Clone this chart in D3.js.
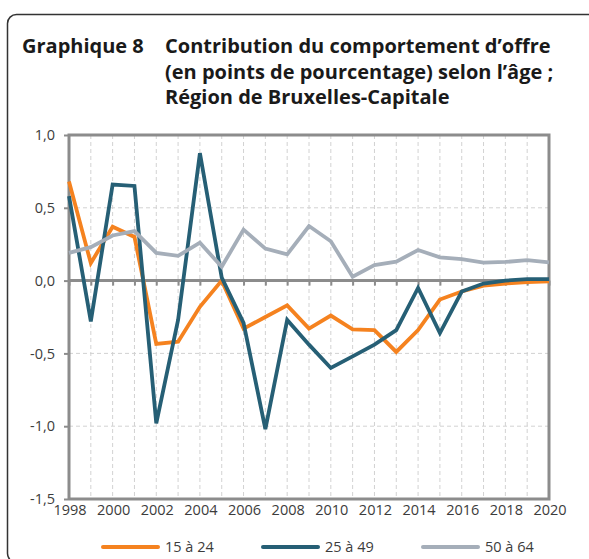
<!DOCTYPE html>
<html>
<head>
<meta charset="utf-8">
<script src="https://cdn.jsdelivr.net/npm/d3@7"></script>
<style>
  body { margin: 0; background: #fff; }
  svg { display: block; }
</style>
</head>
<body>
<div id="chart"></div>
<script>
// Données
const years = d3.range(1998, 2021);
const serie15a24 = [0.68, 0.12, 0.37, 0.30, -0.435, -0.42, -0.18, 0.0, -0.33, -0.25, -0.17, -0.33, -0.24, -0.335, -0.34, -0.49, -0.34, -0.13, -0.075, -0.035, -0.02, -0.01, -0.005];
const serie25a49 = [0.58, -0.28, 0.66, 0.65, -0.98, -0.27, 0.875, 0.02, -0.29, -1.02, -0.27, -0.44, -0.60, -0.52, -0.44, -0.34, -0.05, -0.36, -0.075, -0.02, 0.0, 0.01, 0.01];
const serie50a64 = [0.19, 0.23, 0.31, 0.34, 0.19, 0.17, 0.26, 0.095, 0.35, 0.22, 0.18, 0.375, 0.27, 0.027, 0.107, 0.13, 0.21, 0.16, 0.148, 0.123, 0.128, 0.14, 0.125];
const seriesNames = ["15 à 24", "25 à 49", "50 à 64"];
const yTicks = [1, 0.5, 0, -0.5, -1, -1.5];
const xTickYears = d3.range(1998, 2021, 2);
const titleLabel = "Graphique 8";
const titleLines = [
    "Contribution du comportement d’offre",
    "(en points de pourcentage) selon l’âge ;",
    "Région de Bruxelles-Capitale"
];

const ChartApp = (() => {
    // Configuration
    const config = {
        width: 589,
        height: 559,
        plot: { left: 69, top: 135, right: 549, bottom: 499 },
        colors: ["#f5821f", "#265f75", "#a5aeb9"],
        axisColor: "#8c8c8c",
        gridColor: "#d2d2d2",
        textColor: "#3c3c3c",
        font: "'Open Sans', 'DejaVu Sans', sans-serif"
    };

    function init() {
        const svg = d3.select("#chart")
            .append("svg")
            .attr("width", config.width)
            .attr("height", config.height);

        drawFrame(svg);
        drawTitle(svg);
        drawChart(svg);
        drawLegend(svg);
    }

    // Cadre arrondi
    function drawFrame(svg) {
        svg.append("rect")
            .attr("x", 7.5)
            .attr("y", 14.5)
            .attr("width", 620)
            .attr("height", 548)
            .attr("rx", 9)
            .attr("fill", "none")
            .attr("stroke", "#333")
            .attr("stroke-width", 1.5);
    }

    // Titre
    function drawTitle(svg) {
        const g = svg.append("g")
            .attr("font-family", config.font)
            .attr("font-weight", "bold")
            .attr("font-size", 20)
            .attr("fill", "#1a1a1a");

        g.append("text")
            .attr("x", 22)
            .attr("y", 53)
            .text(titleLabel);

        g.selectAll(".title-line")
            .data(titleLines)
            .enter()
            .append("text")
            .attr("class", "title-line")
            .attr("x", 165)
            .attr("y", (_, i) => 53 + i * 25.5)
            .text(d => d);
    }

    function drawChart(svg) {
        const p = config.plot;

        const x = d3.scaleLinear()
            .domain([1998, 2020])
            .range([p.left, p.right]);

        const y = d3.scaleLinear()
            .domain([-1.5, 1])
            .range([p.bottom, p.top]);

        // Grille verticale
        svg.append("g")
            .selectAll("line")
            .data(years.slice(1, -1))
            .enter()
            .append("line")
            .attr("x1", d => x(d)).attr("x2", d => x(d))
            .attr("y1", p.top).attr("y2", p.bottom)
            .attr("stroke", config.gridColor)
            .attr("stroke-width", 1)
            .attr("stroke-dasharray", "4,3");

        // Grille horizontale
        svg.append("g")
            .selectAll("line")
            .data([0.5, -0.5, -1])
            .enter()
            .append("line")
            .attr("x1", p.left).attr("x2", p.right)
            .attr("y1", d => y(d)).attr("y2", d => y(d))
            .attr("stroke", config.gridColor)
            .attr("stroke-width", 1)
            .attr("stroke-dasharray", "4,3");

        // Axe Y
        const yAxis = d3.axisLeft(y)
            .tickValues(yTicks)
            .tickSize(5)
            .tickPadding(9)
            .tickFormat(d => d3.format(".1f")(d).replace(".", ",").replace("−", "-"));

        const gy = svg.append("g")
            .attr("transform", `translate(${p.left},0)`)
            .call(yAxis);
        gy.select(".domain").remove();
        gy.selectAll(".tick line")
            .attr("stroke", config.axisColor)
            .attr("stroke-width", 2);
        gy.selectAll(".tick text")
            .attr("font-family", config.font)
            .attr("font-size", 14.5)
            .attr("fill", config.textColor);

        // Ticks sur la ligne zéro
        const xAxis = d3.axisBottom(x)
            .tickValues(years)
            .tickSize(5)
            .tickFormat("");

        const gx = svg.append("g")
            .attr("transform", `translate(0,${y(0)})`)
            .call(xAxis);
        gx.select(".domain").remove();
        gx.selectAll(".tick line")
            .attr("stroke", config.axisColor)
            .attr("stroke-width", 2);

        // Étiquettes des années en bas
        svg.append("g")
            .selectAll("text")
            .data(xTickYears)
            .enter()
            .append("text")
            .attr("x", d => x(d) + 1)
            .attr("y", p.bottom + 16)
            .attr("text-anchor", "middle")
            .attr("font-family", config.font)
            .attr("font-size", 14.5)
            .attr("fill", config.textColor)
            .text(d => d);

        // Bordure de la zone de tracé
        const border = svg.append("g")
            .attr("stroke", config.axisColor)
            .attr("stroke-width", 3)
            .attr("fill", "none");

        border.append("path")
            .attr("d", `M${p.left},${p.bottom}V${p.top}H${p.right}V${p.bottom}H${p.left}`);

        border.append("line")
            .attr("x1", p.left).attr("x2", p.right)
            .attr("y1", y(0)).attr("y2", y(0));

        // Séries
        const line = d3.line()
            .x((_, i) => x(years[i]))
            .y(d => y(d));

        const allSeries = [serie15a24, serie25a49, serie50a64];

        svg.append("g")
            .selectAll("path")
            .data(allSeries)
            .enter()
            .append("path")
            .attr("d", line)
            .attr("fill", "none")
            .attr("stroke", (_, i) => config.colors[i])
            .attr("stroke-width", 3.8)
            .attr("stroke-linejoin", "miter")
            .attr("stroke-miterlimit", 3);
    }

    // Légende
    function drawLegend(svg) {
        const lx = [103, 263, 423];
        const ly = 547;

        const items = svg.append("g")
            .selectAll("g")
            .data(seriesNames)
            .enter()
            .append("g")
            .attr("transform", (_, i) => `translate(${lx[i]},${ly})`);

        items.append("line")
            .attr("x1", 0).attr("x2", 55)
            .attr("y1", 0).attr("y2", 0)
            .attr("stroke", (_, i) => config.colors[i])
            .attr("stroke-width", 4)
            .attr("stroke-linecap", "round");

        items.append("text")
            .attr("x", 62)
            .attr("y", 5)
            .attr("font-family", config.font)
            .attr("font-size", 14.5)
            .attr("fill", config.textColor)
            .text(d => d);
    }

    return { init };
})();

document.addEventListener("DOMContentLoaded", ChartApp.init);
</script>
</body>
</html>
